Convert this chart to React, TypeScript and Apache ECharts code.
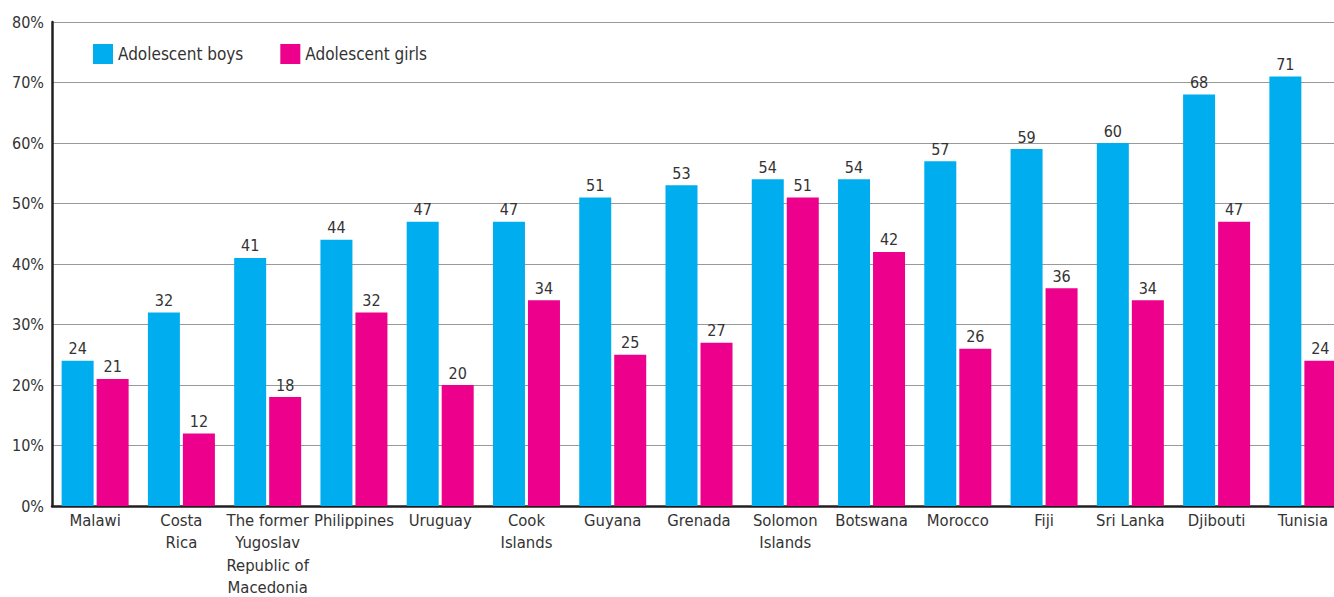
import React, { useEffect, useRef } from "react";
import * as echarts from "echarts";

const categories = [
  "Malawi",
  "Costa\nRica",
  "The former\nYugoslav\nRepublic of\nMacedonia",
  "Philippines",
  "Uruguay",
  "Cook\nIslands",
  "Guyana",
  "Grenada",
  "Solomon\nIslands",
  "Botswana",
  "Morocco",
  "Fiji",
  "Sri Lanka",
  "Djibouti",
  "Tunisia",
];
const boys = [24, 32, 41, 44, 47, 47, 51, 53, 54, 54, 57, 59, 60, 68, 71];
const girls = [21, 12, 18, 32, 20, 34, 25, 27, 51, 42, 26, 36, 34, 47, 24];
const FONT = "'DejaVu Sans Condensed', 'Roboto', sans-serif";

export default function App() {
  const ref = useRef<HTMLDivElement>(null);
  useEffect(() => {
    const chart = echarts.init(ref.current!, null, { renderer: "svg" });
    const label = {
      show: true,
      position: "top" as const,
      distance: 4,
      color: "#333",
      fontSize: 16,
      fontFamily: FONT,
    };
    chart.setOption({
      animation: false,
      textStyle: { fontFamily: FONT },
      legend: {
        left: 93,
        top: 44,
        padding: 0,
        itemWidth: 20,
        itemHeight: 20,
        itemGap: 37,
        icon: "rect",
        textStyle: { fontSize: 17, color: "#333", fontFamily: FONT },
        data: ["Adolescent boys", "Adolescent girls"],
      },
      grid: {
        left: 52,
        top: 22,
        width: 1294,
        bottom: 91,
        containLabel: false,
        outerBoundsMode: "none",
      },
      xAxis: {
        type: "category",
        data: categories,
        axisLine: { show: true, lineStyle: { color: "#231f20", width: 2.5 } },
        axisTick: { show: false },
        axisLabel: {
          interval: 0,
          color: "#333",
          fontSize: 16.5,
          fontFamily: FONT,
          lineHeight: 22.5,
          margin: 3,
        },
      },
      yAxis: {
        type: "value",
        min: 0,
        max: 80,
        interval: 10,
        axisLine: { show: true, lineStyle: { color: "#231f20", width: 2.5 } },
        axisTick: { show: false },
        splitLine: { lineStyle: { color: "#999", width: 1 } },
        axisLabel: {
          formatter: "{value}%",
          color: "#333",
          fontSize: 16,
          fontFamily: FONT,
          margin: 8,
        },
      },
      series: [
        {
          name: "Adolescent boys",
          type: "bar",
          data: boys,
          barWidth: 32,
          barGap: "9.4%",
          itemStyle: { color: "#00aeef" },
          label,
        },
        {
          name: "Adolescent girls",
          type: "bar",
          data: girls,
          barWidth: 32,
          barGap: "9.4%",
          itemStyle: { color: "#ec008c" },
          label,
        },
      ],
    });
    return () => chart.dispose();
  }, []);
  return (
    <div
      ref={ref}
      style={{ position: "fixed", left: 0, top: 0, width: 1334, height: 597, background: "#fff" }}
    />
  );
}
